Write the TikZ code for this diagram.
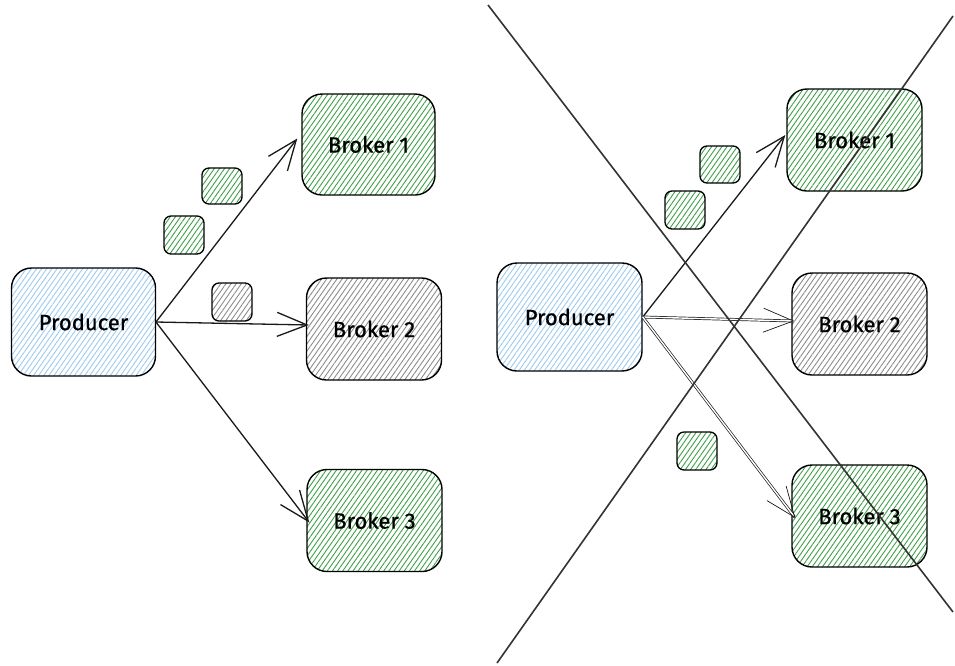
\documentclass[tikz,border=0pt]{standalone}
\usepackage{fontspec}
\setmainfont{Fira Sans}
\newfontfamily\hand{Fira Sans}[FakeBold=0.8]
\usetikzlibrary{patterns.meta,arrows.meta}
\definecolor{hgreen}{HTML}{3F9F48}
\definecolor{hgray}{HTML}{8C8C8C}
\definecolor{hblue}{HTML}{9CCBEF}
\definecolor{crossc}{HTML}{333333}
\begin{document}
\begin{tikzpicture}[x=1pt,y=-1pt,
  box/.style={draw=black, line width=1.4pt, rounded corners=20pt, font=\hand\fontsize{22}{26}\selectfont, inner sep=0pt},
  sq/.style={draw=black, line width=1.3pt, rounded corners=7pt, minimum width=40pt, minimum height=37pt, inner sep=0pt},
  hg/.style={pattern={Lines[angle=55,distance=4.2pt,line width=0.9pt]}, pattern color=hgreen},
  hy/.style={pattern={Lines[angle=55,distance=4.2pt,line width=0.9pt]}, pattern color=hgray},
  hb/.style={pattern={Lines[angle=55,distance=4.2pt,line width=0.9pt]}, pattern color=hblue},
  bsize/.style={minimum width=135pt, minimum height=102pt},
  psize/.style={minimum width=144pt, minimum height=108pt},
  arr/.style={draw=black!90, line width=1.3pt, -{Straight Barb[length=30pt,width=24pt]}},
  dbl/.style={double=white, double distance=1.4pt, line width=0.7pt},
  cross/.style={draw=crossc, line width=1.6pt},
]
\useasboundingbox (0,0) rectangle (955,665);
% ---------- left ----------
\node[box, hb, psize] (pL) at (83.5,322) {Producer};
\node[box, hg, bsize, minimum width=133pt, minimum height=101pt] (b1L) at (368.5,144.5) {Broker 1};
\node[box, hy, bsize] (b2L) at (374,329) {Broker 2};
\node[box, hg, bsize] (b3L) at (374.5,520.5) {Broker 3};
\node[sq, hg, minimum height=36pt] (sqA) at (222,186) {};
\node[sq, hg, minimum height=38pt] (sqB) at (184,235) {};
\node[sq, hy, minimum height=38pt] (sqC) at (232,302) {};
\draw[arr] (pL.east) -- ([shift={(-4,-6)}]b1L.west);
\draw[arr] (pL.east) -- ([shift={(3,-4)}]b2L.west);
\draw[arr] (pL.east) -- ([shift={(3,2)}]b3L.west);
% ---------- right ----------
\node[box, hb, psize, minimum width=145pt] (pR) at (569.5,317) {Producer};
\node[box, hg, bsize] (b1R) at (854.5,140) {Broker 1};
\node[box, hy, bsize] (b2R) at (859.5,324) {Broker 2};
\node[box, hg, bsize] (b3R) at (859.5,516) {Broker 3};
\node[sq, hg] (sqD) at (720,164.5) {};
\node[sq, hg, minimum height=38pt] (sqE) at (685,210) {};
\node[sq, hg, minimum height=38pt] (sqF) at (697,451) {};
\draw[arr] (pR.east) -- ([shift={(-1,-5)}]b1R.west);
\draw[arr, dbl] (pR.east) -- ([shift={(3,-3)}]b2R.west);
\draw[arr, dbl] (pR.east) -- ([shift={(4,2)}]b3R.west);
% ---------- cross ----------
\coordinate (x1s) at (488,5);
\coordinate (x1e) at (953,612);
\coordinate (x2s) at (497,663);
\coordinate (x2e) at (953,16);
\draw[cross] (x1s) -- (x1e);
\draw[cross] (x2s) -- (x2e);
\end{tikzpicture}
\end{document}
